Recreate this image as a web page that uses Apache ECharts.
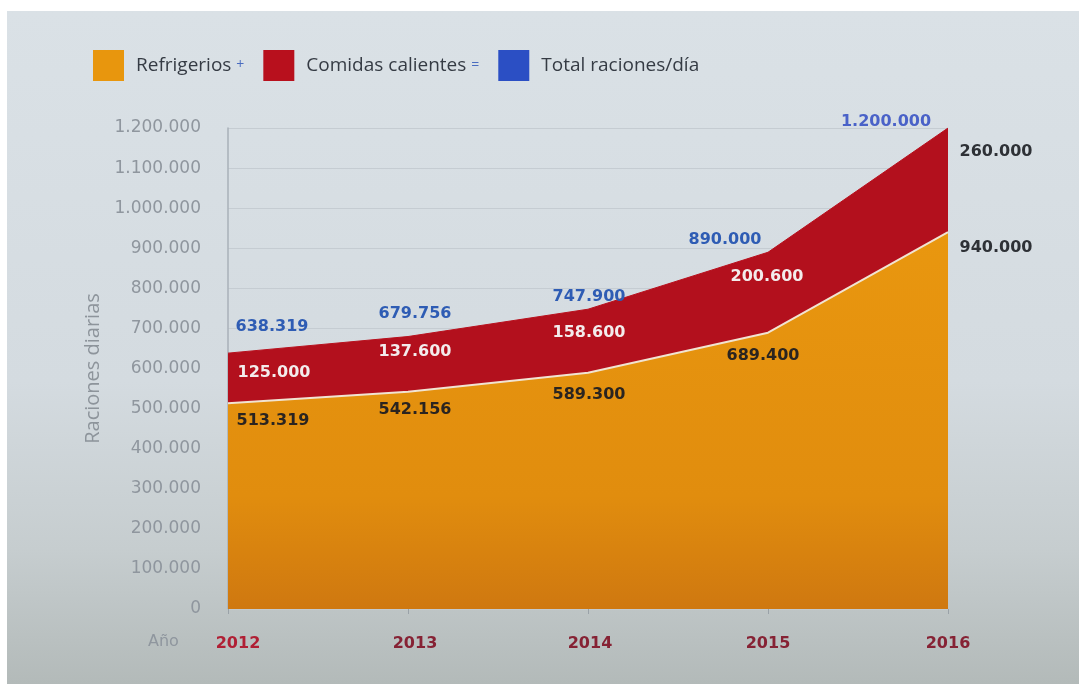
<!DOCTYPE html>
<html>
<head>
<meta charset="utf-8">
<script src="https://cdn.jsdelivr.net/npm/echarts@6/dist/echarts.min.js"></script>
<style>
  html, body { margin: 0; padding: 0; background: #ffffff; width: 1079px; height: 684px; overflow: hidden; }
  #chart { position: absolute; left: 7px; top: 11px; width: 1072px; height: 673px;
    background: linear-gradient(180deg, #dae1e6 0%, #d4dbe0 55%, #c6cdcf 80%, #b3bab9 100%); }
</style>
</head>
<body>
<div id="chart"></div>
<script>
// ---- data ----
const years = ['2012', '2013', '2014', '2015', '2016'];
const refrigerios = [513319, 542156, 589300, 689400, 940000];
const comidasCalientes = [125000, 137600, 158600, 200600, 260000];
const totalRaciones = [638319, 679756, 747900, 890000, 1200000];
const yTicks = [0, 100000, 200000, 300000, 400000, 500000, 600000, 700000, 800000, 900000, 1000000, 1100000, 1200000];

// ---- label placement (style, not data) ----
const refOffsets = [[45, 18], [7, 18], [1, 22], [-5, 23], [48, 16]];
const comOffsets = [[46, 20], [7, 15], [1, 24], [-1, 25], [48, 24]];
const totOffsets = [[44, -26], [7, -23], [1, -12], [-43, -12], [-62, -6]];
const xLabelShift = [20, 14, 4, 0, 0];

const fmt = v => String(v).replace(/\B(?=(\d{3})+(?!\d))/g, '.');

const labelFont = { fontFamily: 'DejaVu Sans', fontWeight: 'bold', fontSize: 16 };

function withLabels(values, offsets, color, lastColor) {
  return values.map((v, i) => ({
    value: v,
    label: {
      show: true, position: 'inside', offset: offsets[i],
      color: (i === values.length - 1 && lastColor) ? lastColor : color,
      formatter: () => fmt(v),
      ...labelFont
    }
  }));
}

const xRich = {};
xLabelShift.forEach((s, i) => {
  xRich['y' + i] = {
    padding: [0, 0, 0, s], fontFamily: 'DejaVu Sans', fontWeight: 'bold', fontSize: 16,
    color: i === 0 ? '#b01f34' : '#862234'
  };
});

const chart = echarts.init(document.getElementById('chart'));
chart.setOption({
  animation: false,
  backgroundColor: 'transparent',
  legend: {
    left: 81, top: 34,
    icon: 'rect', itemWidth: 31, itemHeight: 31, itemGap: 19,
    data: ['Refrigerios', 'Comidas calientes', 'Total raciones/día'],
    formatter: name => name === 'Refrigerios' ? 'Refrigerios {op|+}'
      : name === 'Comidas calientes' ? 'Comidas calientes {op|=}' : name,
    textStyle: {
      fontFamily: 'Open Sans', fontSize: 19, color: '#353b44', padding: [0, 0, 0, 7],
      rich: { op: { color: '#4a6cc0', fontSize: 14, fontFamily: 'Open Sans' } }
    }
  },
  grid: { left: 221, right: 131, top: 117, bottom: 75 },
  xAxis: {
    type: 'category', data: years, boundaryGap: false,
    axisLine: { show: true, lineStyle: { color: '#c3cacf', width: 1 } },
    axisTick: { show: true, length: 5, lineStyle: { color: '#9aa2a8' } },
    axisLabel: {
      margin: 27, rich: xRich,
      formatter: (v, i) => '{y' + i + '|' + v + '}'
    }
  },
  yAxis: {
    type: 'value', min: 0, max: 1200000, interval: 100000,
    name: 'Raciones diarias', nameLocation: 'middle', nameGap: 110, nameRotate: 90,
    nameTextStyle: { fontFamily: 'Open Sans', fontSize: 20, color: '#8d949b' },
    axisLine: { show: true, lineStyle: { color: '#a9b1b8', width: 1.5 } },
    axisTick: { show: false },
    splitLine: { show: true, lineStyle: { color: '#c5ccd2', width: 1 } },
    axisLabel: {
      margin: 27, fontFamily: 'DejaVu Sans', fontSize: 17, color: '#8f969e',
      formatter: v => yTicks.includes(v) ? fmt(v) : ''
    }
  },
  graphic: [{
    type: 'text', left: 141, top: 623,
    style: { text: 'Año', fill: '#8f969e', font: '16px "DejaVu Sans"' }
  }],
  series: [
    {
      name: 'Refrigerios', type: 'line', stack: 'raciones', z: 4,
      symbol: 'circle', symbolSize: 0.01,
      itemStyle: { color: '#e8960d' },
      lineStyle: { color: '#f1e4d2', width: 2 },
      areaStyle: {
        opacity: 1,
        color: new echarts.graphic.LinearGradient(0, 0, 0, 1, [
          { offset: 0, color: '#e9970f' }, { offset: 0.7, color: '#e18d0e' }, { offset: 1, color: '#cf7810' }
        ])
      },
      data: withLabels(refrigerios, refOffsets, '#2a2420', '#2e3136')
    },
    {
      name: 'Comidas calientes', type: 'line', stack: 'raciones', z: 3,
      symbol: 'circle', symbolSize: 0.01,
      itemStyle: { color: '#b8101d' },
      lineStyle: { color: '#b8101d', width: 1 },
      areaStyle: { opacity: 1, color: '#b3101d' },
      data: withLabels(comidasCalientes, comOffsets, '#f3ecec', '#2e3136')
    },
    {
      name: 'Total raciones/día', type: 'line', z: 5,
      symbol: 'circle', symbolSize: 0.01,
      itemStyle: { color: '#2b4fc4' },
      lineStyle: { width: 0, opacity: 0 },
      data: withLabels(totalRaciones, totOffsets, '#2e5cb4', '#4a62c8')
    }
  ]
});
</script>
</body>
</html>
